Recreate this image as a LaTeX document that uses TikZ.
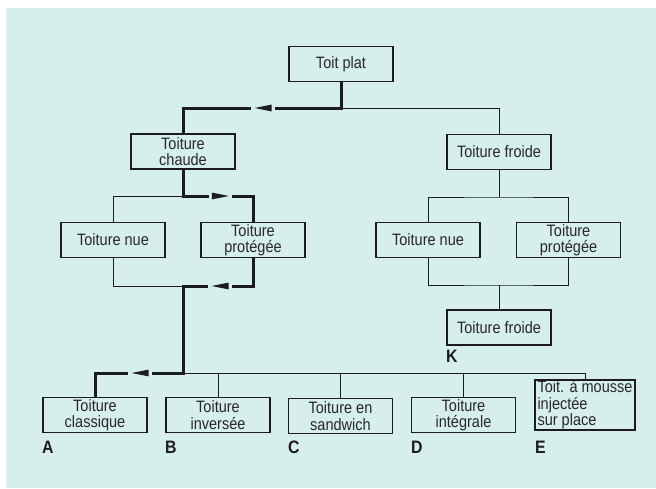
\documentclass[tikz,border=0pt]{standalone}
\usepackage{fontspec}
\setmainfont{Liberation Sans}[FakeStretch=0.88]
\usetikzlibrary{decorations.markings}
\definecolor{bg}{RGB}{214,238,236}
\definecolor{ink}{RGB}{28,28,28}
\definecolor{txt}{RGB}{40,40,40}
\begin{document}
\begin{tikzpicture}[x=1pt,y=-1pt,
  box/.style={draw=ink, line width=1.8pt, minimum width=104pt, minimum height=35pt,
    inner sep=0pt, align=center, font=\fontsize{16.5}{16.5}\selectfont, text=txt},
  thinline/.style={draw=ink, line width=1pt},
  thickline/.style={draw=ink, line width=3pt, line join=miter},
  letter/.style={font=\fontsize{18}{18}\selectfont\bfseries, text=ink, anchor=base west, inner sep=0pt},
  flowarrow/.style={postaction={decorate, decoration={markings, mark=at position #1 with {%
      \fill[bg] (-20,-2.3) rectangle (3.5,2.3);
      \fill[ink] (0,0) -- (-17,3.4) -- (-17,-3.4) -- cycle;}}}}
]
\useasboundingbox (0,0) rectangle (656,488);
\fill[white] (0,0) rectangle (656,488);
\fill[bg] (6,8) rectangle (656,488);

% boxes
\node[box] (plat) at (341,64) {Toit plat};
\node[box] (chaude) at (183,151.5) {Toiture\\chaude};
\node[box] (nueL) at (113,240) {Toiture nue};
\node[box] (protL) at (253,240) {Toiture\\protégée};
\node[box] (froide) at (499,152) {Toiture froide};
\node[box] (nueR) at (428,240) {Toiture nue};
\node[box] (protR) at (568.5,240) {Toiture\\protégée};
\node[box] (froideK) at (499,327.5) {Toiture froide};
\node[box] (A) at (95,415) {Toiture\\classique};
\node[box] (B) at (218,415) {Toiture\\inversée};
\node[box] (C) at (340.5,416) {Toiture en\\sandwich};
\node[box] (D) at (463.5,415) {Toiture\\intégrale};
\node[box, minimum width=100pt, minimum height=50pt, align=left] (E) at (585,405) {Toit. à mousse\\injectée\\sur place};

% letters
\node[letter] (lA) at (42,453) {A};
\node[letter] (lB) at (165,453) {B};
\node[letter] (lC) at (288,453) {C};
\node[letter] (lD) at (411,453) {D};
\node[letter] (lE) at (535,453) {E};
\node[letter] (lK) at (446,362) {K};

% junctions
\coordinate (j1) at (341,108);
\coordinate (j2) at (183,108);
\coordinate (j3) at (183,196);
\coordinate (pLt) at (253,196);
\coordinate (pLb) at (253,286);
\coordinate (j4) at (183,286);
\coordinate (j5) at (183,373);
\coordinate (jA) at (95,373);
\coordinate (jr1) at (499,197);
\coordinate (jr2) at (499,285);

% thin connectors
\draw[thinline] (j1) -| (froide.north);
\draw[thinline] (j3) -| (nueL.north);
\draw[thinline] (nueL.south) |- (j4);
\draw[thinline] (j5) -| (E.north);
\draw[thinline] (B.north) -- (B.north |- j5);
\draw[thinline] (C.north) -- (C.north |- j5);
\draw[thinline] (D.north) -- (D.north |- j5);
\draw[thinline] (froide.south) -- (jr1);
\draw[thinline] (nueR.north) |- (jr1) -| (protR.north);
\draw[thinline] (nueR.south) |- (jr2) -| (protR.south);
\draw[thinline] (jr2) -- (froideK.north);

% thick path (chosen route)
\draw[thickline, flowarrow=112pt] (plat.south) -- (j1) -- (j2) -- (chaude.north);
\draw[thickline, flowarrow=72pt] (chaude.south) -- (j3) -- (pLt) -- (protL.north);
\draw[thickline, flowarrow=69pt, flowarrow=236pt] (protL.south) -- (pLb) -- (j4) -- (j5) -- (jA) -- (A.north);
\end{tikzpicture}
\end{document}
